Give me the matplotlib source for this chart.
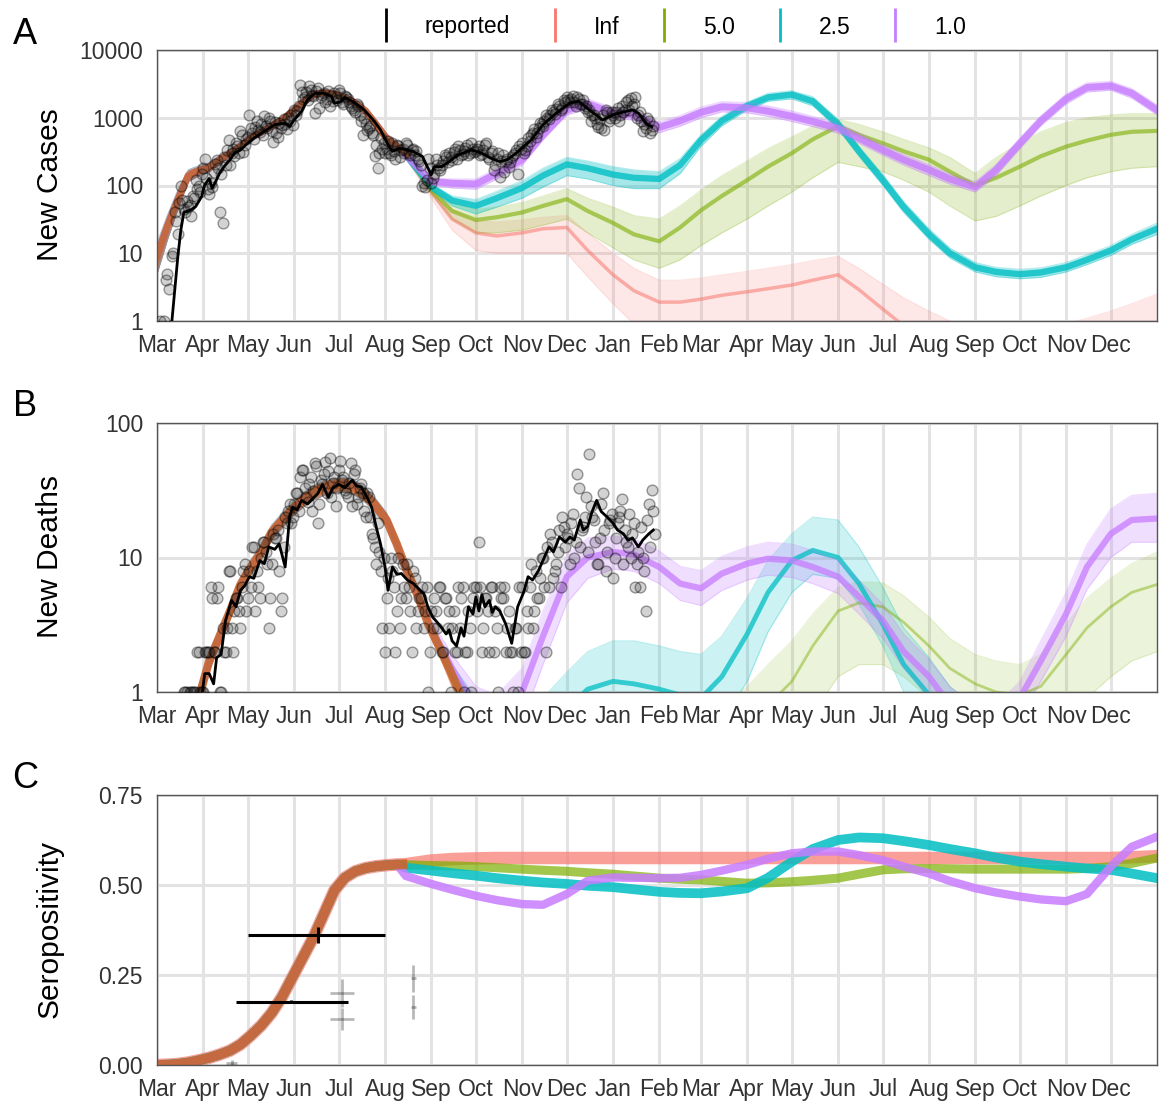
import numpy as np
import pandas as pd
import matplotlib
matplotlib.use("Agg")
import matplotlib.pyplot as plt
import matplotlib.dates as mdates
from matplotlib.lines import Line2D
from matplotlib.ticker import NullLocator

plt.rcParams["font.family"] = ["Liberation Sans", "DejaVu Sans"]

# ------------------------------------------------------------------ data
scenarios = ["Inf", "5.0", "2.5", "1.0"]
scen_colors = ["#F8766D", "#7CAE00", "#00BFC4", "#C77CFF"]
fit_color = "#C8662E"

x_start, x_end = "2020-03-01", "2022-01-01"
fit_dates_ac = pd.date_range("2020-03-01", "2020-08-16", freq="7D")   # 25 weekly knots
fit_dates_b = pd.date_range("2020-03-01", "2020-09-20", freq="7D")    # 30 weekly knots
fc_dates = pd.date_range("2020-08-15", "2022-01-01", freq="SMS")      # 34 semi-monthly knots

# ---- Panel A : new cases (model fit, shared before divergence)
cases_fit = [9, 25, 62, 140, 165, 185, 240, 300, 380, 510, 620, 760, 930, 1250, 1700, 2200,
             2350, 2250, 2000, 1650, 1250, 800, 500, 380, 290]
cases_fit_lo = [5, 16, 45, 115, 140, 160, 210, 265, 340, 455, 555, 685, 840, 1120, 1530, 1980,
                2120, 2030, 1800, 1480, 1120, 720, 440, 335, 255]
cases_fit_hi = [14, 36, 85, 170, 195, 215, 275, 340, 425, 570, 690, 840, 1030, 1390, 1890, 2440,
                2600, 2490, 2220, 1830, 1390, 890, 570, 425, 325]

cases_inf = [280, 80, 32, 20, 18, 20, 23, 24, 11, 4.8, 2.8, 1.9, 1.9, 2.1, 2.4, 2.7, 3.0,
             3.4, 4.0, 4.8, 2.9, 1.5, 0.85, 0.5, 0.35, 0.25, 0.2, 0.2, 0.22, 0.3, 0.4,
             0.5, 0.6, 0.8]
cases_inf_lo = [250, 65, 22, 11, 10, 10, 10, 10, 4.5, 1.8, 0.9, 0.5, 0.45, 0.45, 0.5, 0.55,
                0.6, 0.65, 0.75, 0.9, 0.5, 0.25, 0.15, 0.1, 0.07, 0.05, 0.04, 0.04, 0.04,
                0.05, 0.06, 0.07, 0.08, 0.1]
cases_inf_hi = [310, 95, 45, 30, 29, 31, 34, 36, 20, 10, 6, 4, 4, 4.3, 4.8, 5.4, 6, 6.8,
                7.8, 9, 6, 3.5, 2.2, 1.4, 1.0, 0.8, 0.7, 0.7, 0.75, 0.9, 1.1, 1.4, 1.8, 2.5]

cases_5 = [280, 85, 42, 31, 34, 40, 50, 63, 42, 28, 19, 15, 24, 43, 70, 120, 190, 300, 480,
           750, 560, 420, 320, 240, 160, 100, 130, 190, 270, 375, 460, 560, 620, 640]
cases_5_lo = [260, 75, 32, 20, 20, 22, 26, 32, 20, 12, 8, 6, 8, 13, 20, 32, 50, 80, 130, 220,
              190, 160, 120, 80, 50, 30, 35, 50, 70, 100, 130, 160, 180, 190]
cases_5_hi = [300, 100, 55, 44, 48, 56, 70, 90, 65, 48, 36, 32, 50, 85, 140, 230, 350, 520,
              750, 950, 800, 620, 480, 360, 260, 150, 260, 420, 620, 850, 1000, 1100, 1150, 1150]

cases_25 = [280, 95, 60, 50, 65, 92, 140, 205, 180, 145, 130, 125, 200, 470, 900, 1500, 2000,
            2200, 1750, 800, 320, 120, 48, 19, 10, 6.2, 5.3, 4.9, 5.2, 6.2, 8, 11, 16, 23]
cases_25_lo = [265, 85, 50, 38, 48, 65, 95, 140, 125, 100, 90, 90, 150, 380, 760, 1300, 1750,
               1900, 1500, 680, 270, 100, 40, 16, 8.5, 5.3, 4.5, 4.2, 4.4, 5.3, 6.8, 9.3, 13.5, 19]
cases_25_hi = [295, 105, 70, 62, 82, 118, 180, 260, 230, 190, 170, 160, 250, 560, 1050, 1700,
               2300, 2500, 2050, 950, 380, 145, 58, 23, 12, 7.3, 6.2, 5.8, 6.1, 7.3, 9.5, 13, 19, 28]

cases_1 = [280, 115, 108, 105, 150, 240, 560, 1300, 1600, 1170, 1100, 720, 900, 1200, 1450,
           1400, 1250, 1050, 880, 700, 500, 335, 240, 170, 125, 95, 170, 420, 900, 1900, 2800,
           2950, 2300, 1300]
cases_1_lo = [260, 100, 92, 88, 125, 200, 470, 1100, 1350, 980, 920, 600, 750, 1000, 1220, 1180,
              1050, 880, 740, 590, 420, 280, 200, 140, 105, 80, 140, 350, 760, 1600, 2400, 2550,
              1950, 1100]
cases_1_hi = [300, 130, 125, 125, 180, 290, 670, 1550, 1900, 1400, 1320, 870, 1080, 1440, 1730,
              1680, 1500, 1260, 1050, 840, 600, 400, 290, 205, 150, 115, 205, 500, 1070, 2250,
              3300, 3450, 2700, 1550]

# ---- Panel B : new deaths
deaths_fit = [0.05, 0.1, 0.3, 0.55, 0.9, 1.7, 2.6, 4.0, 6.3, 8.5, 11, 15.5, 19, 23, 27, 30.5,
              33, 34.5, 34.8, 33, 29, 24, 19, 12.5, 7.8, 5.2, 3.2, 2.2, 1.5, 1.0]
deaths_fit_lo = [0.03, 0.07, 0.22, 0.45, 0.75, 1.45, 2.25, 3.5, 5.5, 7.5, 9.7, 13.6, 16.7, 20.2,
                 23.8, 26.8, 29, 30.4, 30.6, 29, 25.5, 21.1, 16.7, 11, 6.8, 4.5, 2.8, 1.9, 1.3,
                 0.85]
deaths_fit_hi = [0.07, 0.14, 0.4, 0.7, 1.1, 1.95, 2.95, 4.5, 7.1, 9.6, 12.4, 17.5, 21.5, 26,
                 30.5, 34.5, 37.3, 39, 39.3, 37.3, 32.8, 27.1, 21.5, 14.1, 8.8, 5.9, 3.6, 2.5,
                 1.7, 1.15]

deaths_inf = [8, 2.8, 1.15, 0.5, 0.25, 0.15, 0.12, 0.1, 0.09, 0.07, 0.05, 0.04, 0.03, 0.03,
              0.03, 0.03, 0.03, 0.03, 0.04, 0.04, 0.04, 0.03, 0.02, 0.02, 0.01, 0.01, 0.01,
              0.01, 0.01, 0.01, 0.01, 0.01, 0.01, 0.01]

deaths_5 = [8, 3.0, 1.3, 0.6, 0.4, 0.35, 0.35, 0.4, 0.4, 0.35, 0.3, 0.25, 0.25, 0.3, 0.4, 0.55,
            0.8, 1.2, 2.2, 4.0, 4.6, 4.3, 3.3, 2.2, 1.5, 1.15, 1.0, 0.95, 1.1, 1.9, 3.0, 4.3,
            5.5, 6.3]
deaths_5_lo = [7.5, 2.7, 1.1, 0.4, 0.2, 0.15, 0.15, 0.15, 0.15, 0.12, 0.1, 0.08, 0.08, 0.1,
               0.13, 0.18, 0.28, 0.4, 0.7, 1.3, 1.6, 1.6, 1.3, 0.9, 0.6, 0.45, 0.38, 0.35, 0.4,
               0.6, 0.9, 1.3, 1.7, 2.0]
deaths_5_hi = [8.5, 3.3, 1.5, 0.8, 0.6, 0.55, 0.55, 0.6, 0.6, 0.55, 0.5, 0.45, 0.5, 0.6, 0.8,
               1.1, 1.6, 2.4, 3.8, 6.0, 6.6, 6.5, 5.2, 3.6, 2.5, 1.9, 1.7, 1.6, 1.9, 3.2, 5.0,
               7.0, 9.0, 11]

deaths_25 = [8, 3.0, 1.4, 0.7, 0.45, 0.4, 0.5, 0.75, 1.05, 1.2, 1.15, 1.05, 0.95, 0.9, 1.3,
             2.7, 5.5, 9.5, 11.3, 10, 6.4, 3.2, 1.6, 0.95, 0.6, 0.4, 0.3, 0.25, 0.22, 0.2, 0.2,
             0.2, 0.2, 0.2]
deaths_25_lo = [7.5, 2.7, 1.2, 0.5, 0.3, 0.25, 0.3, 0.45, 0.6, 0.7, 0.65, 0.6, 0.5, 0.45, 0.6,
                1.2, 2.8, 5.5, 7.5, 7.0, 4.5, 2.2, 1.0, 0.6, 0.35, 0.22, 0.16, 0.12, 0.1, 0.09,
                0.09, 0.09, 0.09, 0.09]
deaths_25_hi = [8.5, 3.3, 1.6, 0.9, 0.7, 0.7, 0.9, 1.4, 2.0, 2.4, 2.4, 2.2, 2.0, 1.9, 2.6, 5.0,
                9.5, 15, 20, 19, 12, 6.0, 3.0, 1.8, 1.1, 0.75, 0.55, 0.45, 0.4, 0.37, 0.37,
                0.37, 0.37, 0.37]

deaths_1 = [8, 3.0, 1.5, 0.75, 0.6, 1.0, 2.6, 7.2, 10, 11, 10.5, 8.5, 6.4, 5.9, 7.6, 9, 9.8,
            9.5, 8.5, 7.2, 5.1, 3.4, 2.0, 1.3, 0.8, 0.6, 0.6, 0.9, 1.7, 3.8, 8.5, 15, 19, 19.5]
deaths_1_lo = [7.5, 2.6, 1.2, 0.55, 0.42, 0.6, 1.6, 4.6, 7.0, 8.2, 7.9, 6.4, 4.8, 4.4, 5.7,
               6.8, 7.4, 7.1, 6.4, 5.4, 3.8, 2.5, 1.5, 0.95, 0.6, 0.45, 0.45, 0.65, 1.2, 2.6,
               5.8, 10, 13, 13]
deaths_1_hi = [8.5, 3.4, 1.9, 1.1, 0.95, 1.5, 4.0, 10.5, 14, 14.5, 13.8, 11.2, 8.6, 8.0, 10.2,
               12, 13, 12.6, 11.3, 9.6, 6.8, 4.5, 2.7, 1.75, 1.1, 0.8, 0.8, 1.2, 2.4, 5.5, 12.5,
               23, 29, 30]

# ---- Panel C : seropositivity
sero_fit = [0.0, 0.001, 0.003, 0.007, 0.013, 0.02, 0.029, 0.04, 0.057, 0.082, 0.11, 0.145,
            0.19, 0.245, 0.3, 0.355, 0.42, 0.485, 0.52, 0.538, 0.547, 0.552, 0.555, 0.557, 0.558]
sero_inf = [0.558, 0.568, 0.572, 0.574, 0.575, 0.575, 0.575, 0.575, 0.575, 0.575, 0.575,
            0.575, 0.575, 0.575, 0.575, 0.575, 0.575, 0.575, 0.575, 0.575, 0.575, 0.575,
            0.575, 0.575, 0.575, 0.575, 0.575, 0.575, 0.575, 0.575, 0.575, 0.575, 0.577, 0.58]
sero_5 = [0.556, 0.554, 0.553, 0.551, 0.548, 0.544, 0.541, 0.538, 0.534, 0.53, 0.525, 0.519,
          0.516, 0.514, 0.51, 0.505, 0.506, 0.509, 0.513, 0.519, 0.53, 0.542, 0.545, 0.546,
          0.545, 0.544, 0.544, 0.544, 0.544, 0.544, 0.546, 0.551, 0.56, 0.575]
sero_25 = [0.548, 0.54, 0.533, 0.526, 0.519, 0.512, 0.507, 0.503, 0.498, 0.494, 0.488, 0.481,
           0.478, 0.477, 0.482, 0.491, 0.52, 0.565, 0.6, 0.625, 0.632, 0.63, 0.622, 0.611, 0.6,
           0.588, 0.576, 0.565, 0.558, 0.551, 0.546, 0.542, 0.532, 0.519]
sero_1 = [0.525, 0.503, 0.487, 0.47, 0.458, 0.447, 0.445, 0.475, 0.512, 0.521, 0.52, 0.519,
          0.52, 0.528, 0.54, 0.556, 0.573, 0.588, 0.593, 0.593, 0.583, 0.569, 0.551, 0.532,
          0.511, 0.491, 0.479, 0.468, 0.46, 0.455, 0.475, 0.551, 0.606, 0.634]

# ---- reported data (two interleaved every-second-day series)
cases_pts_start = "2020-03-03"
cases_pts = [1, 0, 4, 3, 9, 40, 19, 97, 45, 60, 52, 70, 120, 100, 150,
             250, 90, 110, 160, 240, 41, 28, 200, 470, 300, 270, 380, 630, 316, 480,
             1100, 600, 740, 650, 800, 1050, 700, 900, 445, 590, 850, 790, 800, 1000, 1100,
             1300, 1250, 3090, 1900, 2400, 2900, 2200, 1170, 2750, 2000, 2300, 1900, 1500, 1740, 2000,
             2600, 1700, 2100, 1900, 1500, 1300, 1600, 1100, 560, 800, 700, 600, 270, 180, 500, 420,
             350, 300, 420, 250, 380, 330, 300, 400, 280, 350, 320, 230, 100, 95, 250,
             110, 150, 200, 170, 230, 260, 300, 240, 350, 380, 280, 320, 400, 300, 350,
             320, 380, 290, 400, 260, 300, 170, 250, 135, 280, 230, 190, 260, 300, 150, 340,
             300, 380, 450, 600, 520, 700, 800, 900, 1000, 1100, 1200, 1350, 1500, 1400, 1700,
             1800, 1900, 1700, 2000, 1600, 1800, 1500, 1300, 1100, 1000, 740, 700, 650, 1200, 1000,
             1100, 1200, 900, 1500, 1300, 1800, 1950, 1600, 1000, 1200, 630, 700, 890, 650]
cases_pts2_start = "2020-03-04"
cases_pts2 = [0, 1, 5, 0, 10, 30, 55, 62, 40, 48, 35, 65, 90, 80,
              180, 130, 75, 95, 210, 180, 150, 260, 330, 200, 350, 420, 300, 560, 400,
              520, 700, 480, 900, 620, 560, 760, 1000, 640, 880, 520, 700, 950, 680, 900, 780,
              1100, 1500, 2400, 2000, 1800, 2600, 2100, 2500, 1400, 2200, 1700, 2500, 2100, 2300, 1800,
              2300, 1600, 2000, 1700, 1400, 1200, 1500, 900, 1000, 650, 750, 550, 400, 300, 350,
              300, 450, 280, 320, 400, 260, 350, 420, 300, 330, 280, 250, 200, 110, 120, 180,
              130, 250, 180, 200, 280, 220, 260, 310, 250, 330, 290, 360, 280, 420, 310,
              350, 280, 330, 420, 250, 320, 200, 300, 230, 160, 250, 220, 280, 330, 380,
              420, 330, 500, 550, 680, 600, 850, 750, 1100, 950, 1300, 1150, 1600, 1300, 1800,
              2000, 1700, 2100, 1500, 1900, 1600, 1400, 1200, 900, 1100, 800, 950, 1100, 1300, 900, 1200,
              1000, 1400, 1100, 1200, 1700, 1300, 1500, 2000, 1100, 900, 800, 1000, 600, 750]

cases_avg_dates = ["2020-03-04", "2020-03-11", "2020-03-13", "2020-03-15", "2020-03-17",
                   "2020-03-19", "2020-03-24", "2020-03-27", "2020-03-31", "2020-04-02",
                   "2020-04-05", "2020-04-07", "2020-04-09", "2020-04-12", "2020-04-15",
                   "2020-04-19", "2020-04-22", "2020-04-26", "2020-05-01", "2020-05-05",
                   "2020-05-12", "2020-05-19", "2020-05-26", "2020-05-29", "2020-06-01",
                   "2020-06-06", "2020-06-10", "2020-06-15", "2020-06-21", "2020-06-26",
                   "2020-06-28", "2020-07-02", "2020-07-05", "2020-07-12", "2020-07-18",
                   "2020-07-25", "2020-07-29", "2020-08-03", "2020-08-06", "2020-08-11",
                   "2020-08-20", "2020-08-26", "2020-09-01", "2020-09-03", "2020-09-08",
                   "2020-09-13", "2020-09-19", "2020-09-28", "2020-10-05", "2020-10-11",
                   "2020-10-17", "2020-10-22", "2020-10-28", "2020-11-07", "2020-11-15",
                   "2020-11-24", "2020-12-03", "2020-12-09", "2020-12-16", "2020-12-25",
                   "2021-01-01", "2021-01-05", "2021-01-14", "2021-01-18", "2021-01-24",
                   "2021-01-27"]
cases_avg = [0.6, 1.0, 3.0, 9, 22, 40, 44, 49, 69, 102, 127, 91, 110, 152, 190, 240, 300, 335,
             425, 500, 630, 790, 830, 740, 930, 1240, 1850, 2300, 2300, 2080, 1650, 1700, 2000,
             1650, 1310, 880, 660, 400, 320, 355, 316, 270, 144, 190, 190, 225, 283, 335, 300,
             253, 225, 240, 300, 470, 790, 1170, 1650, 1750, 1310, 930, 1100, 1170, 1310, 1170,
             790, 740]

deaths_pts_start = "2020-03-19"
deaths_pts = [1, 1, 1, 1, 1, 2, 1,
              2, 2, 6, 2, 5, 1, 3, 2, 8, 3, 4, 5, 3, 8, 4,
              8, 12, 4, 6, 10, 13, 9, 5, 15, 14, 8, 5, 20, 22, 18,
              25, 30, 40, 45, 28, 35, 22, 50, 18, 38, 42, 30, 55, 36, 24,
              45, 38, 32, 28, 50, 42, 25, 33, 30, 20, 28, 15, 12, 18, 8, 10,
              5, 3, 8, 2, 10, 5, 6, 9, 4, 8, 3, 5, 6, 4, 1,
              4, 5, 3, 6, 2, 5, 4, 3, 2, 6, 5, 1, 2, 3, 5,
              6, 13, 2, 5, 4, 6, 2, 3, 6, 5, 2, 4, 2, 3, 1, 2,
              2, 4, 6, 3, 8, 5, 10, 6, 12, 15, 7, 9, 16, 20, 12,
              14, 18, 10, 42, 12, 17, 28, 59, 20, 13, 9, 25, 16, 11, 19,
              7, 14, 20, 27, 16, 12, 10, 18, 9, 6, 10, 4, 25, 32, 15]
deaths_pts2_start = "2020-03-20"
deaths_pts2 = [1, 0, 1, 1, 2, 1,
               1, 2, 2, 5, 2, 6, 1, 2, 3, 8, 2, 5, 4, 6, 9,
               5, 6, 12, 8, 5, 13, 11, 3, 9, 14, 16, 4, 12, 18, 25, 20,
               30, 22, 45, 33, 26, 40, 31, 48, 25, 35, 51, 44, 28, 40, 33,
               52, 40, 30, 36, 24, 45, 28, 35, 22, 30, 20, 14, 9, 11, 3,
               2, 7, 10, 6, 4, 3, 9, 5, 6, 2, 7, 4, 5, 3, 6, 2,
               3, 4, 6, 2, 5, 3, 1, 4, 2, 3, 6, 2, 4, 1, 6,
               4, 6, 3, 5, 2, 6, 4, 1, 5, 6, 3, 2, 1, 3, 6,
               6, 2, 3, 9, 4, 5, 7, 10, 2, 6, 13, 8, 11, 6, 17,
               15, 9, 21, 13, 33, 16, 20, 11, 24, 19, 9, 14, 30, 8, 18, 21,
               10, 18, 22, 9, 13, 21, 15, 6, 11, 17, 8, 19, 12, 22]

deaths_avg_dates = ["2020-03-31", "2020-04-02", "2020-04-05", "2020-04-08", "2020-04-10",
                    "2020-04-13", "2020-04-16", "2020-04-20", "2020-04-23", "2020-04-26",
                    "2020-04-29", "2020-05-02", "2020-05-05", "2020-05-09", "2020-05-12",
                    "2020-05-15", "2020-05-19", "2020-05-22", "2020-05-26", "2020-05-29",
                    "2020-05-31", "2020-06-03", "2020-06-06", "2020-06-10", "2020-06-13",
                    "2020-06-17", "2020-06-20", "2020-06-24", "2020-06-27", "2020-07-01",
                    "2020-07-05", "2020-07-10", "2020-07-13", "2020-07-16", "2020-07-20",
                    "2020-07-23", "2020-07-26", "2020-07-29", "2020-08-01", "2020-08-03",
                    "2020-08-06", "2020-08-09", "2020-08-12", "2020-08-16", "2020-08-20",
                    "2020-08-24", "2020-08-27", "2020-08-30", "2020-09-02", "2020-09-05",
                    "2020-09-08", "2020-09-11", "2020-09-13", "2020-09-15", "2020-09-18",
                    "2020-09-21", "2020-09-23", "2020-09-26", "2020-09-29", "2020-10-01",
                    "2020-10-03", "2020-10-05", "2020-10-07", "2020-10-10", "2020-10-12",
                    "2020-10-14", "2020-10-17", "2020-10-21", "2020-10-25", "2020-10-29",
                    "2020-11-02", "2020-11-05", "2020-11-08", "2020-11-12", "2020-11-15",
                    "2020-11-19", "2020-11-22", "2020-11-26", "2020-11-30", "2020-12-03",
                    "2020-12-06", "2020-12-10", "2020-12-12", "2020-12-15", "2020-12-18",
                    "2020-12-21", "2020-12-24", "2020-12-28", "2021-01-01", "2021-01-04",
                    "2021-01-08", "2021-01-11", "2021-01-14", "2021-01-18", "2021-01-21",
                    "2021-01-25", "2021-01-28"]
deaths_avg = [0.9, 1.37, 1.37, 1.15, 1.8, 1.9, 3.4, 4.8, 4.3, 5.7, 6.2, 7.2, 7.0, 9.5, 9.0, 12,
              11.5, 12.6, 8.5, 20, 23.7, 22.5, 26.6, 25, 27, 30, 35, 28, 33, 35, 33, 37.5, 34,
              33.5, 28, 23.7, 17, 12.6, 8.5, 5.7, 8.5, 7.5, 7.6, 6.8, 6.4, 5.8, 5.4, 4.2, 3.6,
              3.3, 3.0, 2.7, 2.9, 2.4, 2.2, 3.0, 2.6, 4.3, 3.8, 5.1, 4.0, 5.3, 4.3, 4.8, 3.9,
              4.3, 4.0, 3.2, 2.3, 4.3, 5.5, 7.2, 6.8, 8.0, 9.5, 12, 11, 14.2, 13, 14.2, 13.5,
              19, 16, 17, 22, 26.6, 22, 20, 18, 16, 15, 13.4, 14, 12, 13.5, 15, 16]

# serosurveys
sero_main_dates = ["2020-06-17", "2020-05-30"]
sero_main_vals = [0.361, 0.176]
sero_main_from = ["2020-05-01", "2020-04-23"]
sero_main_to = ["2020-08-01", "2020-07-07"]
sero_main_err = [0.022, 0.004]

sero_other_dates = ["2020-04-20", "2020-07-03", "2020-07-03", "2020-08-20", "2020-08-20"]
sero_other_vals = [0.005, 0.2, 0.128, 0.241, 0.161]
sero_other_err = [0.008, 0.038, 0.03, 0.037, 0.033]
sero_other_days = [4, 8, 8, 1.5, 1.5]

legend_labels = ["reported", "Inf", "5.0", "2.5", "1.0"]

# ------------------------------------------------------------------ figure
W, H = 1161, 1104
fig = plt.figure(figsize=(W / 100, H / 100), dpi=100)


def make_axes(top, bottom):
    return fig.add_axes([157 / W, 1 - bottom / H, 1000 / W, (bottom - top) / H])


axA = make_axes(50, 321)
axB = make_axes(423, 692)
axC = make_axes(795, 1065)

month_starts = pd.date_range("2020-03-01", "2021-12-01", freq="MS")
month_names = [d.strftime("%b") for d in month_starts]

for ax in (axA, axB, axC):
    ax.set_xlim(pd.Timestamp(x_start), pd.Timestamp(x_end))
    ax.set_xticks(month_starts)
    ax.set_xticklabels(month_names)
    ax.grid(True, color="#e3e3e3", lw=2.2)
    ax.set_axisbelow(True)
    ax.tick_params(length=0, labelsize=16.5, colors="#333333")
    ax.tick_params(axis="x", pad=9.5)
    ax.tick_params(axis="y", pad=10)
    for s in ax.spines.values():
        s.set_color("#555555")
        s.set_linewidth(1.0)

axA.set_yscale("log")
axA.set_ylim(1, 10000)
axA.set_yticks([1, 10, 100, 1000, 10000])
axA.set_yticklabels(["1", "10", "100", "1000", "10000"])
axA.yaxis.set_minor_locator(NullLocator())

axB.set_yscale("log")
axB.set_ylim(1, 100)
axB.set_yticks([1, 10, 100])
axB.set_yticklabels(["1", "10", "100"])
axB.yaxis.set_minor_locator(NullLocator())

axC.set_ylim(0, 0.75)
axC.set_yticks([0, 0.25, 0.5, 0.75])
axC.set_yticklabels(["0.00", "0.25", "0.50", "0.75"])


def joined(fit_dates, fit_vals, fc_vals):
    """Shared fit knots before the forecast start, followed by the scenario forecast."""
    keep = fit_dates < fc_dates[0]
    d = list(fit_dates[keep]) + list(fc_dates)
    v = list(np.asarray(fit_vals, dtype=float)[keep]) + list(fc_vals)
    return pd.DatetimeIndex(d), np.array(v, dtype=float)


def band(ax, fit_dates, fit_c, fit_lo, fit_hi, c, lo, hi, color, fa, lw, la):
    d, cc = joined(fit_dates, fit_c, c)
    if lo is not None:
        _, ll = joined(fit_dates, fit_lo, lo)
        _, hh = joined(fit_dates, fit_hi, hi)
        ax.fill_between(d, ll, hh, color=color, alpha=fa, lw=0)
        ax.plot(d, ll, color=color, lw=0.8, alpha=la * 0.35)
        ax.plot(d, hh, color=color, lw=0.8, alpha=la * 0.35)
    ax.plot(d, cc, color=color, lw=lw, alpha=la, solid_capstyle="round")


# ---- Panel A
cases_fc = [(cases_inf, cases_inf_lo, cases_inf_hi, 0.16, 2.5, 0.55),
            (cases_5, cases_5_lo, cases_5_hi, 0.20, 3.0, 0.6),
            (cases_25, cases_25_lo, cases_25_hi, 0.35, 4.5, 0.8),
            (cases_1, cases_1_lo, cases_1_hi, 0.35, 5.0, 0.8)]
for (c, lo, hi, fa, lw, la), col in zip(cases_fc, scen_colors):
    band(axA, fit_dates_ac, cases_fit, cases_fit_lo, cases_fit_hi, c, lo, hi, col, fa, lw, la)
axA.fill_between(fit_dates_ac, cases_fit_lo, cases_fit_hi, color=fit_color, alpha=0.7, lw=0)
axA.plot(fit_dates_ac, cases_fit, color=fit_color, lw=5, alpha=0.9)


def scatter_pts(ax, start, vals):
    dd = pd.date_range(start, periods=len(vals), freq="2D")
    vv = np.array(vals, dtype=float)
    m = vv > 0
    ax.scatter(dd[m], vv[m], s=60, facecolor=(0.15, 0.15, 0.15, 0.2),
               edgecolor=(0, 0, 0, 0.38), lw=1.0, zorder=5)


scatter_pts(axA, cases_pts_start, cases_pts)
scatter_pts(axA, cases_pts2_start, cases_pts2)
axA.plot(pd.to_datetime(cases_avg_dates), cases_avg, color="black", lw=2.0, zorder=6)

# ---- Panel B
deaths_fc = [(deaths_inf, None, None, 0.0, 2.5, 0.55),
             (deaths_5, deaths_5_lo, deaths_5_hi, 0.14, 2.0, 0.45),
             (deaths_25, deaths_25_lo, deaths_25_hi, 0.2, 3.5, 0.75),
             (deaths_1, deaths_1_lo, deaths_1_hi, 0.25, 4.5, 0.75)]
for (c, lo, hi, fa, lw, la), col in zip(deaths_fc, scen_colors):
    band(axB, fit_dates_b, deaths_fit, deaths_fit_lo, deaths_fit_hi, c, lo, hi, col, fa, lw, la)
axB.fill_between(fit_dates_b, deaths_fit_lo, deaths_fit_hi, color=fit_color, alpha=0.75, lw=0)
axB.plot(fit_dates_b, deaths_fit, color=fit_color, lw=6, alpha=0.9)

scatter_pts(axB, deaths_pts_start, deaths_pts)
scatter_pts(axB, deaths_pts2_start, deaths_pts2)
axB.plot(pd.to_datetime(deaths_avg_dates), deaths_avg, color="black", lw=2.0, zorder=6)

# ---- Panel C
sero_fc = [(sero_inf, 9.0, 0.7), (sero_5, 6.5, 0.7), (sero_25, 7.0, 0.85), (sero_1, 6.0, 0.85)]
for (c, lw, la), col in zip(sero_fc, scen_colors):
    d, cc = joined(fit_dates_ac, sero_fit, c)
    axC.plot(d, cc, color=col, lw=lw, alpha=la, solid_capstyle="round")
axC.plot(fit_dates_ac, sero_fit, color=fit_color, lw=7.0, alpha=0.9, solid_capstyle="butt")

sm_x = mdates.date2num(pd.to_datetime(sero_main_dates))
sm_lo = mdates.date2num(pd.to_datetime(sero_main_from))
sm_hi = mdates.date2num(pd.to_datetime(sero_main_to))
axC.errorbar(sm_x, sero_main_vals, xerr=[sm_x - sm_lo, sm_hi - sm_x], yerr=sero_main_err,
             fmt="none", ecolor="black", elinewidth=2.2, capsize=0, zorder=6)
so_x = mdates.date2num(pd.to_datetime(sero_other_dates))
axC.errorbar(so_x, sero_other_vals, xerr=sero_other_days, yerr=sero_other_err,
             fmt="none", ecolor=(0, 0, 0, 0.28), elinewidth=2.0, capsize=0, zorder=6)

# ---- labels
fig.text(50 / W, 1 - 185 / H, "New Cases", rotation=90, ha="center", va="center", fontsize=21.5)
fig.text(50 / W, 1 - 557 / H, "New Deaths", rotation=90, ha="center", va="center", fontsize=21.5)
fig.text(50 / W, 1 - 929 / H, "Seropositivity", rotation=90, ha="center", va="center",
         fontsize=21.5)
for letter, yc in (("A", 35), ("B", 407), ("C", 778)):
    fig.text(25 / W, 1 - yc / H, letter, ha="center", va="center", fontsize=26)

# ---- legend
handles = [Line2D([], [], color=c, marker="|", linestyle="none", markersize=24,
                  markeredgewidth=2.0) for c in ["black"] + scen_colors]
fig.legend(handles, legend_labels, loc="center", bbox_to_anchor=(670 / W, 1 - 27 / H),
           ncol=5, frameon=False, fontsize=16.5, handlelength=1.0, handletextpad=1.2,
           columnspacing=1.45)

fig.savefig("out.png", dpi=100)
